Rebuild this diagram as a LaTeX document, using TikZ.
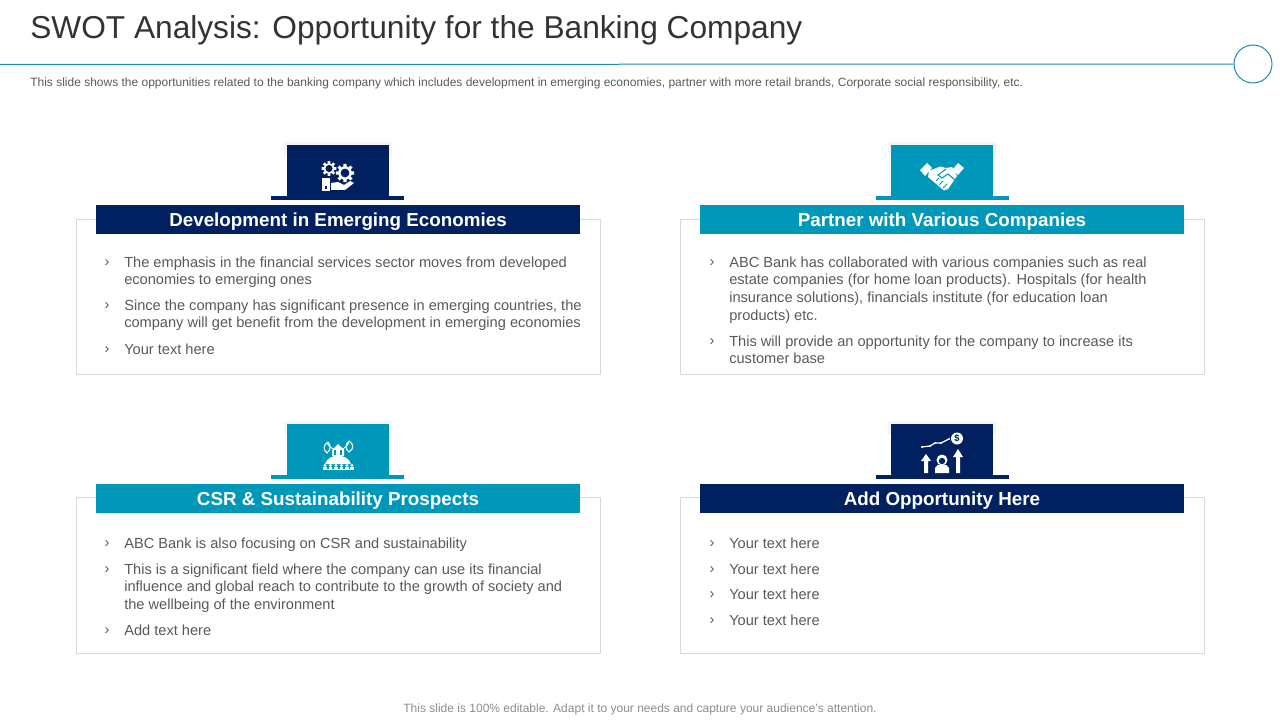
\documentclass[tikz,border=0pt]{standalone}
\usepackage{fontspec}
\setmainfont{Liberation Sans}
\usetikzlibrary{positioning, calc}
\definecolor{navy}{RGB}{0,32,96}
\definecolor{teal}{RGB}{0,152,186}
\definecolor{ringline}{RGB}{30,140,170}
\definecolor{bodygray}{RGB}{89,89,89}
\definecolor{footgray}{RGB}{140,140,140}
\definecolor{boxgray}{RGB}{217,217,217}
\tikzset{
  headbar/.style={minimum width=363pt, minimum height=21.75pt, inner sep=0pt, text=white,
    text height=11pt, text depth=1pt, font=\fontsize{14.1}{16}\selectfont\bfseries},
  bodytext/.style={anchor=north west, inner sep=0pt, align=left, text=bodygray,
    font=\fontsize{10.96}{13.2}\selectfont},
  chevron/.style={anchor=center, inner sep=0pt, text=bodygray, font=\fontsize{11}{13}\selectfont},
  gear/.pic={
    \foreach \a in {0,45,...,315} {
      \fill[white] (\a-14:#1*0.8) -- (\a-10:#1*1.15) -- (\a+10:#1*1.15) -- (\a+14:#1*0.8) -- cycle;
    }
    \fill[white] (0,0) circle (#1*0.85);
    \fill[navy] (0,0) circle (#1*0.55);
  }
}
\newcommand{\opitem}[4]{
  \node[chevron] (#1c) at (#2-17,#3+1) {›};
  \node[bodytext] (#1) at (#2,#3-5.5) {#4};
}
\begin{document}
\begin{tikzpicture}[x=0.75pt,y=-0.75pt]
\useasboundingbox (0,0) rectangle (1280,720);
\node[anchor=west, inner sep=0pt, font=\fontsize{23.75}{28}\selectfont, text=black!80] (title) at (30,30)
  {SWOT Analysis: Opportunity for the Banking Company};
\node[circle, draw=ringline, minimum size=28.5pt, inner sep=0pt, line width=0.75pt] (ring) at (1253,64) {};
\coordinate (rulestart) at (0,64.5);
\draw[ringline, line width=0.75pt] (rulestart) -- (ring);
\node[anchor=west, inner sep=0pt, font=\fontsize{9}{11}\selectfont, text=bodygray] (intro) at (30,83)
  {This slide shows the opportunities related to the banking company which includes development in emerging economies, partner with more retail brands, Corporate social responsibility, etc.};
% four cards
\foreach \n/\x/\y/\t/\b/\s/\col/\head in {dev/76/145/219.5/374/271/navy/Development in Emerging Economies,
    partner/680/145/219.5/374/876/teal/Partner with Various Companies,
    csr/76/424/497.5/653/271/teal/CSR \& Sustainability Prospects,
    add/680/424/497.5/653/876/navy/Add Opportunity Here} {
  \draw[boxgray, line width=0.75pt] (\x+0.5,\t) rectangle (\x+524.5,\b);
  \fill[black!4] (\x+208,\y-3) rectangle (\x+316,\y+10);
  \fill[\col] (\x+211,\y) rectangle (\x+313,\y+52);
  \fill[\col] (\s,\y+51) rectangle (\s+133,\y+55);
  \node[headbar, fill=\col] (\n) at (\x+262,\y+74.5) {\head};
}
% top left
\opitem{dev1}{124}{262}{The emphasis in the financial services sector moves from developed\\economies to emerging ones}
\opitem{dev2}{124}{305}{Since the company has significant presence in emerging countries, the\\company will get benefit from the development in emerging economies}
\opitem{dev3}{124}{349}{Your text here}
% top right
\opitem{partner1}{729}{262}{ABC Bank has collaborated with various companies such as real\\estate companies (for home loan products). Hospitals (for health\\insurance solutions), financials institute (for education loan\\products) etc.}
\opitem{partner2}{729}{341}{This will provide an opportunity for the company to increase its\\customer base}
% bottom left
\opitem{csr1}{124}{543}{ABC Bank is also focusing on CSR and sustainability}
\opitem{csr2}{124}{569}{This is a significant field where the company can use its financial\\influence and global reach to contribute to the growth of society and\\the wellbeing of the environment}
\opitem{csr3}{124}{630}{Add text here}
% bottom right
\foreach \i/\y in {1/543, 2/569, 3/594, 4/620} {
  \opitem{add\i}{729}{\y}{Your text here}
}
\node[inner sep=0pt, font=\fontsize{9}{11}\selectfont, text=footgray] (foot) at (640,709)
  {This slide is 100\% editable. Adapt it to your needs and capture your audience's attention.};
% icon: gears over a hand
\pic at (329,168.5) {gear=6.5};
\pic at (345,173) {gear=8};
\fill[white] (322,178) rectangle (330,191);
\fill[navy] (325,186) rectangle (327,189);
\fill[white] (331,183) -- (338,182) -- (344,185) -- (350,181) -- (354,183) -- (345,190) -- (331,190) -- cycle;
% icon: handshake
\fill[white] (920,170) -- (927,163) -- (932,168) -- (925,176) -- cycle;
\fill[white] (964,168) -- (958,163) -- (952,170) -- (958,175) -- cycle;
\fill[white] (929,171) -- (940,166.5) -- (946,168) -- (952,167) -- (957,176) -- (948,189) -- (944,190.5) -- (928,177) -- cycle;
\draw[teal, line width=0.8pt] (946,169) -- (938,175) -- (942,178) -- (948,174) -- (955,180);
\draw[teal, line width=0.7pt] (936,181) -- (939,178) (939,185) -- (943,181) (943,188) -- (947,184);
% icon: buildings, leaves and people
\draw[white, line width=0.7pt] (327,443) arc (155:25:12);
\draw[white, line width=0.8pt] (328,442) .. controls (323,445) and (323,450) .. (327,453) .. controls (331,450) and (331,445) .. (328,442);
\draw[white, line width=0.8pt] (349,441) .. controls (354,444) and (354,449) .. (349,452) .. controls (345,449) and (345,444) .. (349,441);
\fill[white] (332,450) -- (338,444) -- (344,450) -- (344,456) -- (332,456) -- cycle;
\foreach \x in {335,341} {
  \fill[teal] (\x-1,450) rectangle (\x+1,455);
}
\fill[white] (325,464) .. controls (328,453) and (348,453) .. (351,464) -- cycle;
\foreach \x in {325,330.5,336,341.5,347,352} {
  \fill[white] (\x,465.5) circle (1.6);
  \fill[white] (\x-1.6,466.5) rectangle (\x+1.6,469);
}
\fill[white] (323,468.5) rectangle (354,470);
% icon: rising chart, person and arrows
\draw[white, line width=0.9pt] (922,447) -- (930,446) -- (935,443) -- (941,443) -- (949,439);
\foreach \x/\y in {922/447, 930/446, 935/443, 941/443, 949/439} {
  \fill[white] (\x,\y) circle (1.2);
}
\node[circle, fill=white, minimum size=9pt, inner sep=0pt, text=navy, font=\fontsize{7}{8}\selectfont\bfseries] (coin) at (957,438.5) {\$};
\fill[white] (926,454) -- (931,461) -- (928,461) -- (928,473) -- (924,473) -- (924,461) -- (921,461) -- cycle;
\fill[white] (958,449) -- (963,457) -- (960,457) -- (960,473) -- (956,473) -- (956,457) -- (953,457) -- cycle;
\fill[white] (942,460) circle (5.5);
\fill[navy] (942,461) circle (3.2);
\fill[white] (935,473) -- (935,468) .. controls (936,463) and (948,463) .. (949,468) -- (949,473) -- cycle;
\end{tikzpicture}
\end{document}
